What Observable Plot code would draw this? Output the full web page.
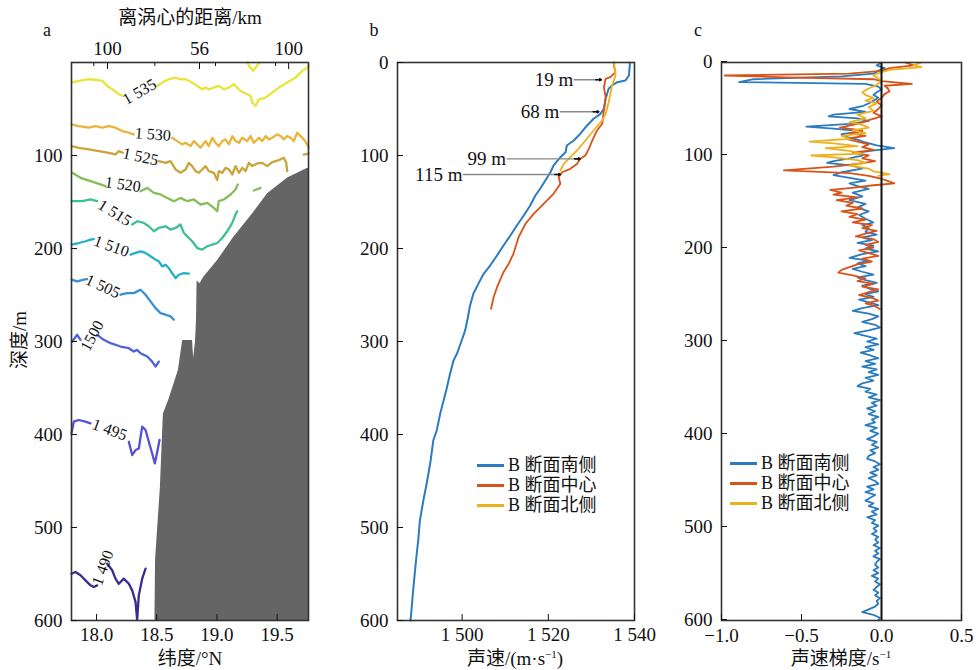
<!DOCTYPE html>
<html><head><meta charset="utf-8">
<script src="https://cdn.jsdelivr.net/npm/d3@7"></script>
<script src="https://cdn.jsdelivr.net/npm/@observablehq/plot@0.6"></script>
<style>
body{margin:0;background:#fff;}
#wrap{position:relative;width:976px;height:670px;overflow:hidden;font-family:"Liberation Serif","Noto Sans CJK SC",serif;color:#111;}
.pan{position:absolute;top:0;}
.pan svg{overflow:visible;}
.t{position:absolute;white-space:nowrap;font-size:19px;line-height:1;transform:translate(-50%,-50%);}
.leg{position:absolute;font-size:18px;line-height:20px;}
.leg div{height:20px;display:flex;align-items:center;white-space:nowrap;}
.leg span.sw{display:inline-block;width:27px;height:3px;margin-right:4px;}
</style></head><body><div id="wrap"></div>
<script>
// ---------- Panel a: sound-speed contours (lat, depth) ----------
const levels = [1535, 1530, 1525, 1520, 1515, 1510, 1505, 1500, 1495, 1490];
const levelColors = ["#e6e63a", "#eab43a", "#c9a53a", "#86bd5a", "#3fbf96", "#22b1c6", "#3a8ed4", "#5063dc", "#5551d4", "#3a2c8e"];
const c1535 = [
  [[17.792,21.7],[17.853,19.8],[17.936,18.0],[18.005,18.8],[18.047,19.8],[18.089,25.2],[18.130,28.8],[18.185,34.2],[18.218,36.0]],
  [[18.504,25.2],[18.545,21.6],[18.600,18.0],[18.656,16.2],[18.697,18.0],[18.739,18.0],[18.794,21.6],[18.836,25.2],[18.878,28.8],[18.905,27.0],[18.932,28.8],[18.974,27.0],[19.015,25.2],[19.057,28.8],[19.099,27.0],[19.140,23.4],[19.168,27.0],[19.196,30.6],[19.251,34.2],[19.279,36.0],[19.293,43.2],[19.320,46.8],[19.348,39.6],[19.403,37.8],[19.459,32.4],[19.514,27.0],[19.584,21.6],[19.652,16.2],[19.708,9.0],[19.750,5.5],[19.76,3]],
  [[19.25,0],[19.28,6],[19.30,9],[19.33,4],[19.35,0]]
];
const c1530 = [
  [[17.792,66.5],[17.853,68.3],[17.936,70.1],[17.991,68.3],[18.047,70.1],[18.102,68.3],[18.157,70.1],[18.213,73.7],[18.268,75.5],[18.309,77.3]],
  [[18.628,80.9],[18.670,84.5],[18.711,88.0],[18.739,86.3],[18.780,89.9],[18.808,84.5],[18.836,88.0],[18.863,91.7],[18.905,84.5],[18.932,89.9],[18.961,80.9],[18.988,86.3],[19.015,89.9],[19.044,84.5],[19.071,82.7],[19.099,88.0],[19.127,79.1],[19.154,84.5],[19.182,86.3],[19.210,80.9],[19.251,84.5],[19.279,79.1],[19.306,86.3],[19.348,80.9],[19.376,84.5],[19.403,79.1],[19.431,82.7],[19.459,80.9],[19.500,77.3],[19.528,79.1],[19.555,82.7],[19.583,79.1],[19.611,80.9],[19.638,84.5],[19.666,75.5],[19.694,79.1],[19.721,82.7],[19.750,88.0],[19.76,91.7]]
];
const c1525 = [
  [[17.792,89.9],[17.853,91.7],[17.936,93.4],[18.019,95.3],[18.102,97.1],[18.157,98.8],[18.185,95.3],[18.218,97.1]],
  [[18.517,106],[18.573,107.9],[18.614,106],[18.656,115],[18.697,118.6],[18.739,115],[18.766,107.9],[18.794,111.4],[18.822,116.8],[18.850,118.6],[18.877,115],[18.905,111.4],[18.932,116.8],[18.974,118.6],[19.002,126.5],[19.015,116.8],[19.044,118.6],[19.071,113.2],[19.099,115],[19.127,120.4],[19.154,111.4],[19.182,118.6],[19.210,113.2],[19.237,116.8],[19.265,107.9],[19.293,111.4],[19.334,108.5],[19.376,107.9],[19.417,111.4],[19.459,107.1],[19.514,105],[19.555,102.5],[19.575,107.9],[19.583,116.8]],
  [[19.72,99],[19.76,98]]
];
const c1520 = [
  [[17.798,118.6],[17.867,124],[17.950,127.6],[18.033,131.1],[18.074,133]],
  [[18.365,138.4],[18.421,134.8],[18.476,140.2],[18.531,141.9],[18.587,145.6],[18.642,149.1],[18.697,145.6],[18.753,149.1],[18.808,147.3],[18.863,152.7],[18.919,151],[18.974,156.4],[19.002,159.9],[19.015,149.1],[19.057,147.3],[19.113,141.9],[19.154,136.5],[19.173,131.1]],
  [[19.306,137.6],[19.362,134.8]]
];
const c1515 = [
  [[17.792,149.1],[17.881,149.1],[17.950,147.3],[18.005,149.1]],
  [[18.296,174.2],[18.338,170.7],[18.392,172.5],[18.434,176.1],[18.476,181.5],[18.517,177.9],[18.573,176.1],[18.614,179.6],[18.656,177.9],[18.697,174.2],[18.725,183.3],[18.753,186.9],[18.794,192.2],[18.836,199.5],[18.877,201.2],[18.919,197.6],[18.961,195.8],[19.002,194.1],[19.044,188.7],[19.085,181.5],[19.127,172.5],[19.154,163.5],[19.168,159.9]]
];
const c1510 = [
  [[17.792,195.8],[17.853,194.1],[17.908,192.2],[17.950,190.4],[17.977,189.8]],
  [[18.282,206.6],[18.324,204.8],[18.365,203],[18.407,204.8],[18.448,208.4],[18.490,212],[18.517,213.8],[18.545,219.2],[18.573,217.4],[18.600,221],[18.628,226.4],[18.656,231.8],[18.683,228.2],[18.725,226.4],[18.766,227.1]]
];
const c1505 = [
  [[17.792,233.5],[17.839,235.3],[17.894,233.5],[17.922,232.9]],
  [[18.199,249.7],[18.255,248],[18.309,248],[18.365,244.3],[18.407,249.7],[18.448,256.9],[18.490,264.1],[18.531,269.5],[18.573,271.2],[18.614,273],[18.642,276.6]]
];
const c1500 = [
  [[17.798,300],[17.839,292.8],[17.867,298.2]],
  [[18.005,292.8],[18.060,298.2],[18.116,301.8],[18.199,305.4],[18.268,307.2],[18.309,310.8],[18.337,309],[18.365,312.6],[18.421,316.2],[18.462,321.6],[18.490,327],[18.517,321.6]]
];
const c1495 = [
  [[17.792,398.8],[17.811,386.2],[17.853,384.4],[17.908,386.2],[17.950,388]],
  [[18.268,407.8],[18.296,422.1],[18.324,416.7],[18.351,415],[18.379,391.6],[18.407,395.2],[18.434,407.8],[18.462,420.4],[18.484,431.1],[18.504,418.5],[18.523,405.9]]
];
const c1490 = [
  [[17.792,549.7],[17.825,547.8],[17.867,551.4],[17.908,556.8],[17.950,562.2],[17.977,564],[18.005,562.2]],
  [[18.088,538.9],[18.130,546],[18.157,555],[18.185,560.5],[18.226,555],[18.268,560.5],[18.296,567.6],[18.324,580.2],[18.337,599],[18.351,573],[18.379,555],[18.407,544.3]]
];
const contourSets = [c1535, c1530, c1525, c1520, c1515, c1510, c1505, c1500, c1495, c1490];

// contour labels
const labelText  = ["1 535","1 530","1 525","1 520","1 515","1 510","1 505","1500","1 495","1 490"];
const labelLat   = [18.357, 18.467, 18.365, 18.218, 18.152, 18.124, 18.052, 17.964, 18.108, 18.052];
const labelDepth = [31.6, 77.3, 101.4, 131.2, 161.7, 197.6, 240.7, 293.9, 395, 543.5];
const labelAngle = [-30, 4, 12, 8, 32, 20, 25, -62, 20, -70];

// bathymetry top (lat, depth)
const bathyLat   = [18.485, 18.49, 18.53, 18.555, 18.60, 18.68, 18.715, 18.797, 18.806, 18.822, 18.83, 18.835, 18.86, 18.89, 19.005, 19.14, 19.30, 19.42, 19.59, 19.75, 19.76];
const bathyDepth = [600, 535, 457, 378, 363, 331, 299, 299, 318, 300, 277, 235, 238, 231, 213, 188, 162, 141, 124, 114, 114];

// top axis (distance from eddy centre)
const topTickLat = [18.091, 18.855, 19.595];
const topTickLabel = ["100", "56", "100"];
const topMinorLat = [17.977, 18.484, 18.988, 19.486];

// ---------- Panel b: sound speed profiles [speed, depth] ----------
const bSouth = [[1538.9,0],[1538.9,3.2],[1538.7,14],[1537.9,19.4],[1536.0,21.2],[1534.8,24.7],[1534.0,28.3],[1533.3,39],[1532.9,49.8],[1532.1,55.2],[1530.5,60.5],[1529.0,67.7],[1527.4,76.7],[1525.9,83.9],[1524.3,89.2],[1524.0,96.5],[1522.8,101.8],[1521.2,110.8],[1520.5,118],[1519.3,126.9],[1518.1,135.8],[1517.0,143],[1515.8,153.8],[1514.3,164.5],[1512.7,175.3],[1511.2,186],[1509.6,196.8],[1508.1,207.5],[1506.5,218.3],[1505.0,227.2],[1504.2,234],[1502.6,248.7],[1501.8,262],[1501.3,275],[1500.7,288],[1499.9,298.9],[1498.8,313.2],[1498.0,320.4],[1497.2,334.7],[1496.3,352.7],[1494.9,377.7],[1494.1,395.7],[1493.3,406.5],[1492.7,427.9],[1491.9,449.5],[1491.0,471],[1490.2,492.5],[1489.8,514],[1489.3,535.5],[1488.7,564.2],[1488.1,596.5],[1488.0,600]];
const bCenter = [[1535.2,0],[1535.2,3.2],[1535.6,10.4],[1534.4,15.8],[1533.3,17.5],[1532.9,26.6],[1533.3,37.3],[1532.9,51.6],[1532.5,65.9],[1531.3,73.1],[1530.2,83.9],[1529.4,92.8],[1528.6,100],[1527.4,103.5],[1526.7,108.9],[1525.1,114.3],[1523.2,118],[1522.4,123.3],[1522.8,130.4],[1521.2,141.2],[1518.9,151.9],[1516.6,162.7],[1514.7,173.4],[1513.1,187.8],[1511.9,205.7],[1510.8,216.5],[1509.6,225.5],[1508.1,241.6],[1507.3,252.4],[1506.7,264.8]];
const bNorth = [[1535.3,0],[1535.3,3.2],[1535.6,14],[1534.8,24.7],[1534.0,42.7],[1533.3,55.2],[1532.5,62.4],[1530.5,73.1],[1528.6,83.9],[1527.0,92.8],[1525.1,101.8],[1523.6,108.9],[1522.8,116.1]];

// annotation arrows
const arrowLabel = ["19 m", "68 m", "99 m", "115 m"];
const arrowDepth = [18.5, 53, 103.6, 120.4];
const arrowFrom  = [1526.0, 1522.8, 1510.4, 1500.3];
const arrowTo    = [1532.3, 1531.7, 1527.4, 1522.8];

// ---------- Panel c: sound speed gradient [depth, gradient] ----------
const gSouth = [[0,0.0],[3,-0.03],[6,0.02],[9,-0.02],[12,-0.05],[15,-0.25],[18,-0.8],[21,-0.89],[23,-0.1],[26,-0.02],[29,0.0],[32,-0.03],[35,-0.05],[38,-0.02],[41,-0.05],[44,-0.08],[47,-0.12],[50,-0.2],[53,-0.1],[56,-0.3],[58,-0.33],[60,-0.15],[63,-0.08],[66,-0.2],[69,-0.47],[71,-0.3],[74,-0.12],[77,-0.25],[80,-0.22],[83,-0.15],[86,-0.1],[89,-0.03],[92,0.08],[94,-0.02],[97,-0.15],[100,-0.12],[103,-0.2],[106,-0.3],[108,-0.34],[111,-0.18],[114,-0.12],[118,-0.25],[121,-0.3],[124,-0.2],[127,-0.1],[130,-0.2],[133,-0.15],[136,-0.08],[140,-0.18],[144,-0.12],[148,-0.2],[152,-0.1],[156,-0.15],[160,-0.08],[164,-0.14],[168,-0.1],[172,-0.05],[175,-0.12],[178,-0.08],[182,-0.1],[185,-0.03],[188,-0.12],[191,-0.06],[194,-0.15],[197,-0.05],[200,-0.1],[203,-0.02],[206,-0.12],[210,-0.2],[213,-0.08],[216,-0.15],[219,-0.1],[222,-0.18],[225,-0.12],[228,-0.05],[231,-0.15],[234,-0.1],[237,-0.03],[240,-0.12],[243,-0.08],[246,-0.02],[249,-0.1],[252,-0.05],[255,-0.14],[258,-0.08],[261,-0.02],[264,-0.12],[267,-0.18],[270,-0.08],[273,-0.02],[276,-0.06],[279,-0.12],[282,-0.04],[285,-0.01],[288,-0.08],[291,-0.17],[294,-0.1],[297,-0.03],[300,-0.09],[303,-0.02],[306,-0.1],[309,-0.05],[312,-0.13],[315,-0.07],[318,-0.02],[321,-0.1],[324,-0.04],[327,-0.12],[330,-0.03],[333,-0.08],[336,-0.02],[339,-0.1],[342,-0.05],[345,-0.12],[348,-0.15],[351,-0.07],[354,-0.1],[357,-0.03],[360,-0.08],[363,-0.01],[366,-0.06],[369,-0.03],[372,-0.09],[375,-0.04],[378,-0.08],[381,-0.02],[384,-0.06],[387,-0.04],[390,-0.1],[393,-0.03],[396,-0.07],[399,-0.02],[402,-0.05],[405,-0.09],[408,-0.03],[411,-0.06],[414,-0.02],[417,-0.07],[420,-0.04],[423,-0.08],[426,-0.09],[429,-0.04],[432,-0.01],[435,-0.05],[438,-0.02],[441,-0.07],[444,-0.03],[447,-0.08],[450,-0.04],[453,-0.02],[456,-0.09],[459,-0.05],[462,-0.1],[465,-0.04],[468,-0.07],[471,-0.1],[474,-0.05],[477,-0.08],[480,-0.02],[483,-0.06],[486,-0.03],[489,-0.09],[492,-0.04],[495,-0.06],[498,-0.02],[501,-0.05],[504,-0.03],[507,-0.06],[510,-0.02],[513,-0.04],[516,-0.02],[519,-0.05],[522,-0.01],[525,-0.04],[528,-0.02],[531,-0.05],[534,-0.01],[537,-0.03],[540,-0.04],[543,-0.02],[546,-0.05],[549,-0.02],[552,-0.06],[555,-0.02],[558,-0.04],[561,-0.01],[564,-0.03],[567,-0.05],[570,-0.02],[573,-0.04],[576,-0.01],[579,-0.03],[582,-0.02],[585,-0.04],[588,-0.08],[591,-0.12],[594,-0.05],[597,-0.01],[600,-0.02]];
const gCenter = [[0,0.15],[3,0.2],[6,0.05],[9,0.0],[12,-0.2],[14,-0.98],[16,-0.6],[18,-0.05],[20,0.0],[23,0.19],[25,0.02],[28,0.04],[31,0.05],[34,0.02],[38,0.0],[42,-0.03],[46,0.0],[50,-0.02],[54,-0.05],[58,0.0],[62,-0.08],[66,-0.15],[70,-0.26],[73,-0.12],[76,-0.2],[79,-0.1],[82,-0.22],[85,-0.15],[88,-0.08],[91,-0.12],[94,-0.05],[97,-0.18],[100,-0.08],[103,-0.12],[106,-0.04],[109,-0.15],[112,-0.3],[116,-0.61],[119,-0.2],[122,-0.08],[125,0.0],[128,0.05],[130,0.08],[132,-0.05],[135,-0.2],[137,-0.32],[140,-0.25],[142,-0.3],[145,-0.15],[148,-0.28],[151,-0.18],[154,-0.22],[157,-0.12],[160,-0.25],[163,-0.15],[166,-0.2],[169,-0.1],[172,-0.18],[175,-0.06],[178,-0.12],[181,-0.03],[184,-0.1],[187,-0.16],[190,-0.05],[193,-0.02],[196,-0.1],[199,-0.05],[202,-0.14],[205,-0.08],[208,-0.02],[211,-0.12],[214,-0.06],[217,-0.15],[220,-0.2],[223,-0.25],[226,-0.27],[229,-0.18],[232,-0.1],[235,-0.15],[238,-0.05],[241,-0.12],[244,-0.02],[247,-0.08],[250,-0.14],[253,-0.06],[256,-0.02],[259,-0.1],[262,-0.04],[265,-0.01]];
const gNorth = [[0,0.25],[3,0.2],[5,0.25],[8,0.05],[11,-0.01],[14,-0.05],[17,-0.02],[20,0.0],[24,-0.03],[28,-0.08],[32,-0.12],[35,-0.1],[38,-0.05],[41,-0.1],[44,-0.03],[48,-0.08],[52,-0.05],[56,-0.15],[60,-0.1],[64,-0.2],[67,-0.12],[70,-0.08],[73,-0.18],[76,-0.1],[79,-0.25],[82,-0.2],[85,-0.45],[87,-0.3],[90,-0.15],[92,-0.35],[95,-0.2],[98,-0.12],[100,-0.44],[102,-0.3],[105,-0.15],[108,-0.1],[111,-0.2],[114,-0.08],[117,-0.05],[120,0.05],[122,-0.02]];

const seriesNames = ["B 断面南侧", "B 断面中心", "B 断面北侧"];
const seriesColors = ["#2a7bbf", "#d95319", "#edb120"];
const depthTicks = [0, 100, 200, 300, 400, 500, 600];

// ---------- build ----------
const wrap = document.getElementById("wrap");
const FONT = '"Liberation Serif","Noto Sans CJK SC",serif';
const baseStyle = {fontFamily: FONT, fontSize: "19px", color: "#111", background: "transparent", overflow: "visible"};

const contourRows = [];
contourSets.forEach((segs, li) => segs.forEach((seg, si) => seg.forEach(([lat, depth]) =>
  contourRows.push({lat, depth, level: levels[li], seg: li + "-" + si}))));
const labelRows = labelText.map((t, i) => ({t, lat: labelLat[i], depth: labelDepth[i], angle: labelAngle[i]}));
const bathy = bathyLat.map((lat, i) => ({lat, depth: bathyDepth[i]}));
const topMap = new Map(topTickLat.map((d, i) => [d, topTickLabel[i]]));

const plotA = Plot.plot({
  width: 320, height: 670, marginLeft: 71, marginRight: 12, marginTop: 62, marginBottom: 50,
  style: baseStyle,
  x: {domain: [17.792, 19.76]},
  y: {domain: [0, 600], reverse: true},
  color: {domain: levels, range: levelColors},
  marks: [
    Plot.areaY(bathy, {x: "lat", y1: "depth", y2: () => 600, fill: "#656565", curve: "linear"}),
    Plot.line(contourRows, {x: "lat", y: "depth", z: "seg", stroke: "level", strokeWidth: 2.3, strokeLinejoin: "round", curve: "linear"}),
    Plot.text(labelRows, {x: "lat", y: "depth", text: "t", rotate: "angle", fontSize: 16, fill: "#111"}),
    Plot.frame({stroke: "#333", strokeWidth: 1.6}),
    Plot.axisY({ticks: depthTicks.slice(1), tickSize: -6, tickPadding: 15, label: null}),
    Plot.axisX({ticks: [18, 18.5, 19, 19.5], tickFormat: d3.format(".1f"), tickSize: -6, tickPadding: 13, label: null}),
    Plot.axisX({anchor: "top", ticks: topTickLat, tickFormat: d => topMap.get(d), tickSize: -6, tickPadding: 14, label: null}),
    Plot.axisX({anchor: "top", ticks: topMinorLat, tickFormat: () => "", tickSize: -3, label: null})
  ]
});

const toRowsVD = arr => arr.map(([v, d]) => ({v, d}));
const arrowRows = arrowLabel.map((label, i) => ({label, depth: arrowDepth[i], from: arrowFrom[i], to: arrowTo[i]}));
const tickB = new Map([[1500, "1 500"], [1520, "1 520"], [1540, "1 540"]]);

const plotB = Plot.plot({
  width: 320, height: 670, marginLeft: 57, marginRight: 26, marginTop: 62, marginBottom: 50,
  style: baseStyle,
  x: {domain: [1485, 1540]},
  y: {domain: [0, 600], reverse: true},
  marks: [
    Plot.line(toRowsVD(bSouth), {x: "v", y: "d", stroke: seriesColors[0], strokeWidth: 2, curve: "linear"}),
    Plot.line(toRowsVD(bCenter), {x: "v", y: "d", stroke: seriesColors[1], strokeWidth: 1.8, curve: "linear"}),
    Plot.line(toRowsVD(bNorth), {x: "v", y: "d", stroke: seriesColors[2], strokeWidth: 1.8, curve: "linear"}),
    Plot.arrow(arrowRows, {x1: "from", x2: "to", y1: "depth", y2: "depth", stroke: "#8a8a8a", strokeWidth: 1.4, headLength: 0}),
    Plot.arrow(arrowRows, {x1: d => d.to - 1.3, x2: "to", y1: "depth", y2: "depth", stroke: "#111", strokeWidth: 1.6, headLength: 7}),
    Plot.text(arrowRows, {x: "from", y: "depth", text: "label", textAnchor: "end", dx: -1, fontSize: 19, fill: "#111"}),
    Plot.frame({stroke: "#333", strokeWidth: 1.6}),
    Plot.axisY({ticks: depthTicks, tickSize: -6, tickPadding: 15, label: null}),
    Plot.axisX({ticks: [1500, 1520, 1540], tickFormat: d => tickB.get(d), tickSize: -6, tickPadding: 13, label: null})
  ]
});

const toRowsDG = arr => arr.map(([d, g]) => ({d, g}));
const plotC = Plot.plot({
  width: 316, height: 670, marginLeft: 61, marginRight: 15, marginTop: 62, marginBottom: 50,
  style: baseStyle,
  x: {domain: [-1, 0.5]},
  y: {domain: [0, 600], reverse: true},
  marks: [
    Plot.line(toRowsDG(gSouth), {x: "g", y: "d", stroke: seriesColors[0], strokeWidth: 1.8, curve: "linear"}),
    Plot.line(toRowsDG(gCenter), {x: "g", y: "d", stroke: seriesColors[1], strokeWidth: 1.8, curve: "linear"}),
    Plot.line(toRowsDG(gNorth), {x: "g", y: "d", stroke: seriesColors[2], strokeWidth: 1.8, curve: "linear"}),
    Plot.ruleX([0], {stroke: "#111", strokeWidth: 2}),
    Plot.frame({stroke: "#333", strokeWidth: 1.6}),
    Plot.axisY({ticks: depthTicks, tickSize: -6, tickPadding: 15, dy: -1, label: null}),
    Plot.axisX({ticks: [-1, -0.5, 0, 0.5], tickFormat: d3.format(".1f"), tickSize: -6, tickPadding: 14, label: null})
  ]
});

function place(node, left) {
  const d = document.createElement("div");
  d.className = "pan"; d.style.left = left + "px";
  d.appendChild(node); wrap.appendChild(d);
}
place(plotA, 0); place(plotB, 340); place(plotC, 660);

function txt(s, x, y, extra) {
  const e = document.createElement("div");
  e.className = "t"; e.innerHTML = s;
  e.style.left = x + "px"; e.style.top = y + "px";
  if (extra) Object.assign(e.style, extra);
  wrap.appendChild(e);
}
txt("a", 47, 30, {fontSize: "18px"});
txt("b", 374, 30, {fontSize: "18px"});
txt("c", 698, 30, {fontSize: "18px"});
txt("离涡心的距离/km", 190, 17);
txt("纬度/°N", 190, 658);
txt("深度/m", 19, 340, {transform: "translate(-50%,-50%) rotate(-90deg)"});
txt("声速/(m·s<sup style='font-size:11px;vertical-align:7px'>−1</sup>)", 515, 658);
txt("声速梯度/s<sup style='font-size:11px;vertical-align:7px'>−1</sup>", 841, 658);

function legend(x, y) {
  const L = document.createElement("div");
  L.className = "leg"; L.style.left = x + "px"; L.style.top = y + "px";
  seriesNames.forEach((n, i) => {
    const r = document.createElement("div");
    r.innerHTML = `<span class="sw" style="background:${seriesColors[i]}"></span>${n}`;
    L.appendChild(r);
  });
  wrap.appendChild(L);
}
legend(477, 455);
legend(730, 453);
</script></body></html>
